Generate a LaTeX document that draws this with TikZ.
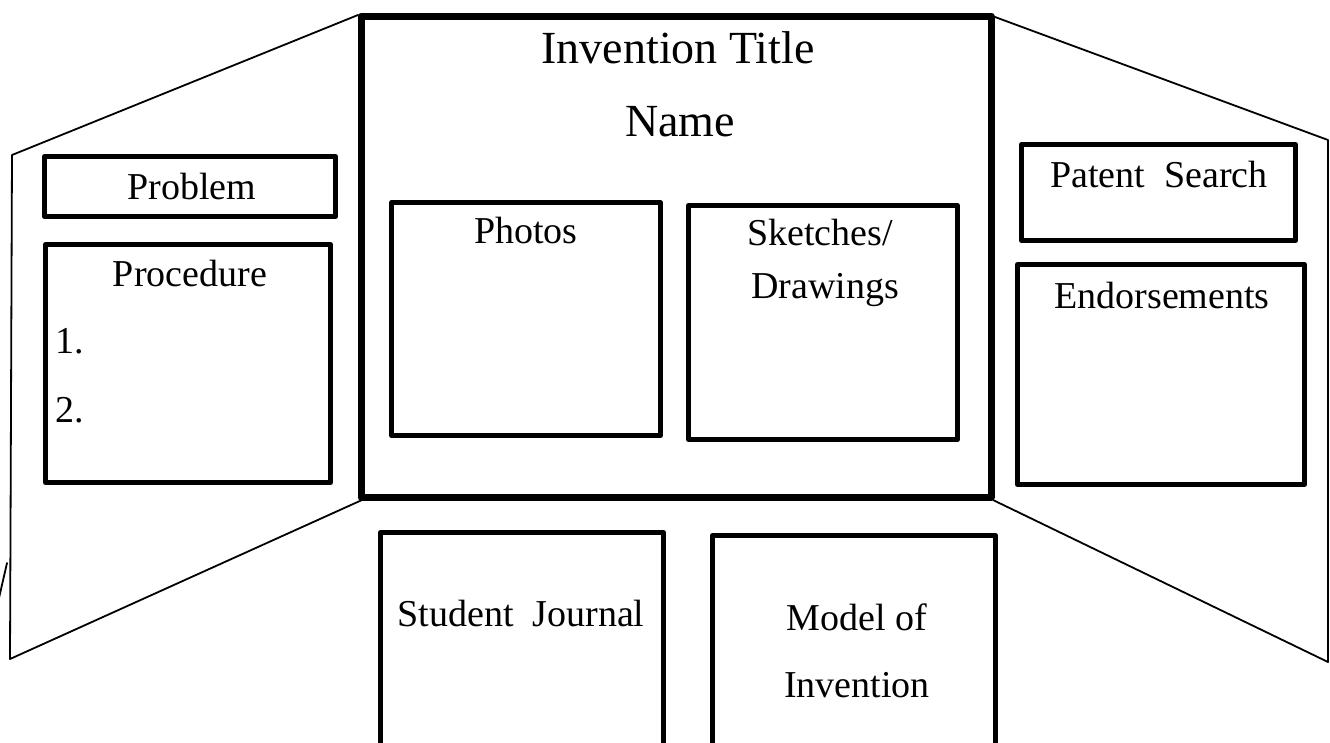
\documentclass[tikz,border=0pt]{standalone}
\usepackage{fontspec}
\setmainfont{Liberation Serif}
\begin{document}
\begin{tikzpicture}[x=1pt,y=-1pt,
  panel/.style={line width=1.8pt, line cap=round, line join=round},
  boardbox/.style={draw, line width=5pt, line join=round, rectangle, inner sep=0pt},
  mainbox/.style={draw, line width=7pt, line join=round, rectangle, inner sep=0pt},
  lbl/.style={inner sep=0pt, anchor=base, font=\fontsize{38}{46}\selectfont},
  biglbl/.style={inner sep=0pt, anchor=base, font=\fontsize{46}{54}\selectfont}]
\useasboundingbox (0,0) rectangle (1330,742);

% panel outline coordinates
\coordinate (LT) at (12,155);
\coordinate (LTi) at (358,15);
\coordinate (LB) at (10,659);
\coordinate (LBi) at (362,500);
\coordinate (RT) at (1328,140);
\coordinate (RTi) at (995,17);
\coordinate (RB) at (1328,662);
\coordinate (RBi) at (993,500);
\coordinate (TickA) at (7,563);
\coordinate (TickB) at (-1,598);

\draw[panel] (LTi) -- (LT) -- (LB) -- (LBi);
\draw[panel] (RTi) -- (RT) -- (RB) -- (RBi);
\draw[panel] (TickA) -- (TickB);

% main centre board
\node[mainbox, minimum width=630pt, minimum height=481pt] (main) at (676,256.5) {};

% left panel boxes
\node[boardbox, minimum width=291pt, minimum height=60pt] (problem) at (190,186.5) {};
\node[boardbox, minimum width=285pt, minimum height=238pt] (procedure) at (188,363.5) {};

% centre boxes
\node[boardbox, minimum width=269pt, minimum height=233pt] (photos) at (526,319) {};
\node[boardbox, minimum width=269pt, minimum height=234pt] (sketches) at (823,322.5) {};

% right panel boxes
\node[boardbox, minimum width=274pt, minimum height=96pt] (patent) at (1158.5,192.5) {};
\node[boardbox, minimum width=287pt, minimum height=220pt] (endorse) at (1161,374.5) {};

% bottom boxes (run off the page)
\node[boardbox, minimum width=283pt, minimum height=240pt] (journal) at (522,652.5) {};
\node[boardbox, minimum width=283pt, minimum height=240pt] (model) at (854,655.5) {};

% labels
\node[biglbl] (tTitle) at (678,63) {Invention Title};
\node[biglbl] (tName) at (680,136) {Name};
\node[lbl] (tProblem) at (192,199) {Problem};
\node[lbl] (tProc) at (190,286) {Procedure};
\node[lbl, anchor=base west] (tOne) at (55,353) {1.};
\node[lbl, anchor=base west] (tTwo) at (55,422) {2.};
\node[lbl] (tPhotos) at (526,243) {Photos};
\node[lbl] (tSketch) at (820,245) {Sketches/};
\node[lbl] (tDraw) at (825,298) {Drawings};
\node[lbl] (tPatent) at (1159,187) {Patent~~Search};
\node[lbl] (tEndorse) at (1162,308) {Endorsements};
\node[lbl] (tJournal) at (521,626) {Student~~Journal};
\node[lbl] (tModel) at (857,630) {Model of};
\node[lbl] (tInv) at (857,697) {Invention};
\end{tikzpicture}
\end{document}
